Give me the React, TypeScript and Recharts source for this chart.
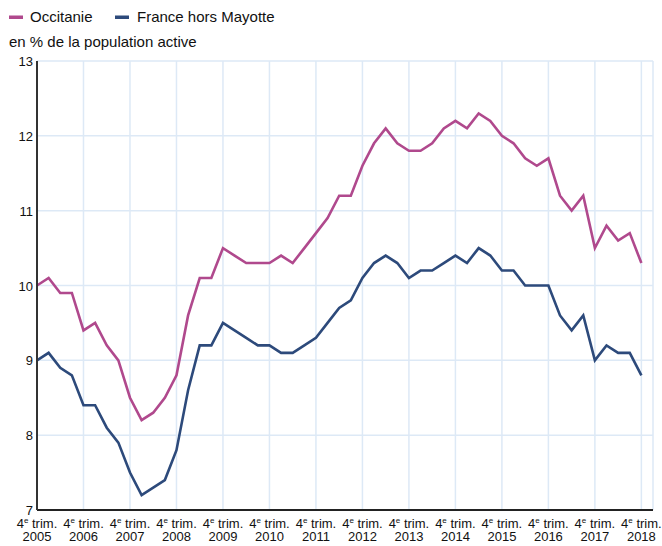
import React from 'react';
import { LineChart, Line, XAxis, YAxis, CartesianGrid } from 'recharts';

const years = ['2005','2006','2007','2008','2009','2010','2011','2012','2013','2014','2015','2016','2017','2018'];

const occitanie = [
  10.0,
  10.1, 9.9, 9.9, 9.4,
  9.5, 9.2, 9.0, 8.5,
  8.2, 8.3, 8.5, 8.8,
  9.6, 10.1, 10.1, 10.5,
  10.4, 10.3, 10.3, 10.3,
  10.4, 10.3, 10.5, 10.7,
  10.9, 11.2, 11.2, 11.6,
  11.9, 12.1, 11.9, 11.8,
  11.8, 11.9, 12.1, 12.2,
  12.1, 12.3, 12.2, 12.0,
  11.9, 11.7, 11.6, 11.7,
  11.2, 11.0, 11.2, 10.5,
  10.8, 10.6, 10.7, 10.3,
];

const france = [
  9.0,
  9.1, 8.9, 8.8, 8.4,
  8.4, 8.1, 7.9, 7.5,
  7.2, 7.3, 7.4, 7.8,
  8.6, 9.2, 9.2, 9.5,
  9.4, 9.3, 9.2, 9.2,
  9.1, 9.1, 9.2, 9.3,
  9.5, 9.7, 9.8, 10.1,
  10.3, 10.4, 10.3, 10.1,
  10.2, 10.2, 10.3, 10.4,
  10.3, 10.5, 10.4, 10.2,
  10.2, 10.0, 10.0, 10.0,
  9.6, 9.4, 9.6, 9.0,
  9.2, 9.1, 9.1, 8.8,
];

const yTicks = [7, 8, 9, 10, 11, 12, 13];

const data = occitanie.map((v, i) => ({ i, occ: v, fr: france[i] }));
const xTicks = years.map((_, k) => k * 4);

const PINK = '#b0498d';
const BLUE = '#2d4a7b';
const GRID = '#dde9f6';
const FONT = 'Liberation Sans, Arial, sans-serif';

const XTick = (props: any) => {
  const { x, y, payload } = props;
  const year = years[payload.value / 4];
  return (
    <g>
      <text x={x} y={y + 10} textAnchor="middle" fontFamily={FONT} fontSize={13} fill="#111">
        <tspan>4</tspan>
        <tspan fontSize={8} dy={-5}>e</tspan>
        <tspan dy={5}> trim.</tspan>
      </text>
      <text x={x} y={y + 23} textAnchor="middle" fontFamily={FONT} fontSize={13} fill="#111">
        {year}
      </text>
    </g>
  );
};

const YTick = (props: any) => {
  const { x, y, payload } = props;
  return (
    <text x={x + 4} y={y + 5} textAnchor="end" fontFamily={FONT} fontSize={13} fill="#111">
      {payload.value}
    </text>
  );
};

export default function App() {
  return (
    <div style={{ position: 'absolute', left: 0, top: 0, width: 662, height: 546, background: '#fff', fontFamily: FONT }}>
      <svg width={662} height={60} style={{ position: 'absolute', left: 0, top: 0 }}>
        <rect x={9} y={15.5} width={14} height={3.5} fill={PINK} />
        <text x={30} y={22} fontFamily={FONT} fontSize={15} fill="#111">Occitanie</text>
        <rect x={115} y={15.5} width={14} height={3.5} fill={BLUE} />
        <text x={137} y={22} fontFamily={FONT} fontSize={15} fill="#111">France hors Mayotte</text>
        <text x={9} y={47} fontFamily={FONT} fontSize={15} fill="#111">en % de la population active</text>
      </svg>
      <div style={{ position: 'absolute', left: 0, top: 0 }}>
        <LineChart width={662} height={546} data={data} margin={{ top: 61, right: 9, bottom: 0, left: 0 }}>
          <CartesianGrid stroke={GRID} strokeWidth={1.5} />
          <XAxis
            dataKey="i"
            type="number"
            domain={[0, 53]}
            ticks={xTicks}
            interval={0}
            height={36}
            tickLine={false}
            axisLine={{ stroke: '#222', strokeWidth: 2 }}
            tick={<XTick />}
          />
          <YAxis
            type="number"
            domain={[7, 13]}
            ticks={yTicks}
            interval={0}
            width={37}
            tickLine={false}
            axisLine={{ stroke: '#333', strokeWidth: 2 }}
            tick={<YTick />}
          />
          <Line type="linear" dataKey="occ" stroke={PINK} strokeWidth={2.6} dot={false} isAnimationActive={false} />
          <Line type="linear" dataKey="fr" stroke={BLUE} strokeWidth={2.6} dot={false} isAnimationActive={false} />
        </LineChart>
      </div>
    </div>
  );
}
